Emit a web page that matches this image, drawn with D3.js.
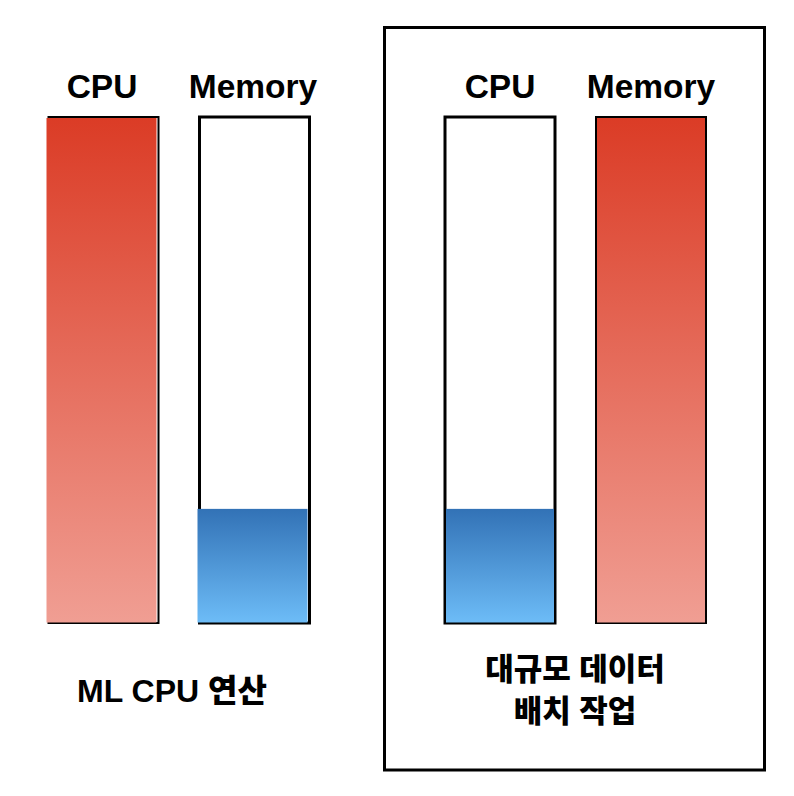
<!DOCTYPE html>
<html><head><meta charset="utf-8">
<script src="https://cdn.jsdelivr.net/npm/d3@7/dist/d3.min.js"></script>
<style>body{margin:0;background:#fff}svg{display:block}</style>
</head><body>
<svg id="c" width="794" height="796"></svg>
<script>
const groups = ["ML CPU 연산", "대규모 데이터 배치 작업"];
const groupLines = [["ML CPU 연산"], ["대규모 데이터", "배치 작업"]];
const resources = ["CPU", "Memory"];
const cpuValues = [100, 22.5];
const memoryValues = [22.5, 100];

const svg = d3.select("#c");
const defs = svg.append("defs");
const red = defs.append("linearGradient").attr("id","gRed").attr("x1",0).attr("y1",0).attr("x2",0).attr("y2",1);
red.append("stop").attr("offset","0%").attr("stop-color","#db3c26");
red.append("stop").attr("offset","100%").attr("stop-color","#f09e93");
const blue = defs.append("linearGradient").attr("id","gBlue").attr("x1",0).attr("y1",0).attr("x2",0).attr("y2",1);
blue.append("stop").attr("offset","0%").attr("stop-color","#3272b6");
blue.append("stop").attr("offset","100%").attr("stop-color","#6dbcf7");

const y = d3.scaleLinear().domain([0,100]).range([622.5,117.5]);
const x0 = d3.scaleBand().domain(groups).range([47, 843]).paddingInner(0).paddingOuter(0);
const x1 = d3.scaleBand().domain(resources).range([0, 261]).paddingInner(41/151).paddingOuter(0);

const data = [];
groups.forEach((g,i)=>{
  data.push({g, gi:i, r:"CPU", v:cpuValues[i]});
  data.push({g, gi:i, r:"Memory", v:memoryValues[i]});
});

// right panel frame
svg.append("rect").attr("x",384.5).attr("y",27.5).attr("width",380).attr("height",742.5)
  .attr("fill","none").attr("stroke","#000").attr("stroke-width",3);

const bw = x1.bandwidth();
const bars = svg.append("g").selectAll("g").data(data).join("g")
  .attr("transform", d=>`translate(${x0(d.g)+x1(d.r)},0)`);

// outline
bars.append("rect")
  .attr("x", d=> d.gi===0 ? 1.5 : 0)
  .attr("y", y(100)-0.5)
  .attr("width", bw)
  .attr("height", y(0)-y(100)+1)
  .attr("fill","#fff").attr("stroke","#000")
  .attr("stroke-width", d => d.v>=100 ? 2 : 3);

// fill
bars.append("rect")
  .attr("x", d=> d.gi===0 ? -0.5 : 1)
  .attr("y", d=> y(d.v) + (d.v>=100?0.5:0))
  .attr("width", d=> d.gi===0 ? bw : bw-2)
  .attr("height", d=> y(0)-y(d.v) - (d.v>=100?0.5:0))
  .attr("fill", d=> d.v>=100 ? "url(#gRed)" : "url(#gBlue)");

// resource labels
bars.append("text")
  .attr("x", bw/2)
  .attr("y", 98)
  .attr("text-anchor","middle")
  .attr("font-family","'Liberation Sans', Arial, sans-serif")
  .attr("font-weight","bold").attr("font-size",33.5)
  .attr("fill","#000")
  .text(d=>d.r);

// group labels
const gl = svg.append("g").selectAll("text").data(groups).join("text")
  .attr("x", (g,i)=> i===0 ? 172 : 575)
  .attr("y", (g,i)=> i===0 ? 702 : 680)
  .attr("text-anchor","middle")
  .attr("font-family","'Liberation Sans', 'Noto Sans CJK KR', sans-serif")
  .attr("font-weight",900).attr("font-size",(g,i)=> i===0 ? 32 : 31).attr("fill","#000");
gl.each(function(g,i){
  const t = d3.select(this);
  groupLines[i].forEach((line,j)=>{
    t.append("tspan").attr("x", i===0 ? 172 : 575).attr("dy", j===0?0:42).text(line);
  });
});
</script>
</body></html>
